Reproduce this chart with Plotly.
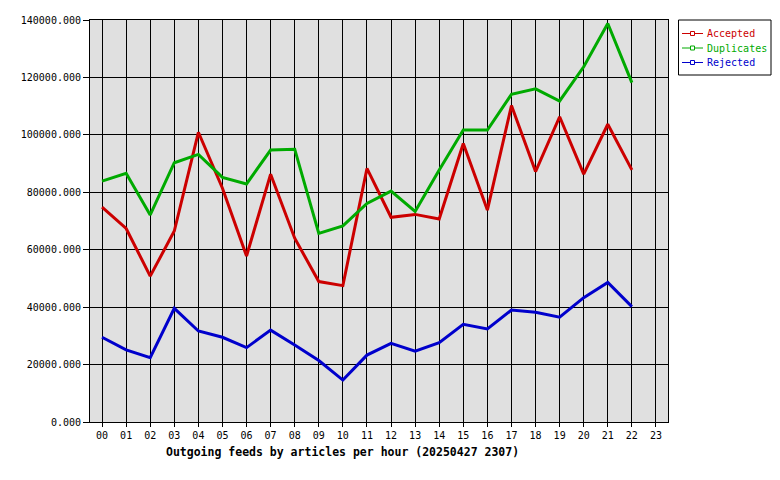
import plotly.graph_objects as go

hours = ["%02d" % h for h in range(24)]
accepted = [74800, 67400, 50800, 66500, 100900, 81400, 57800, 86300, 64000, 48900, 47500, 88300,
            71300, 72300, 70700, 97000, 73800, 110200, 87200, 106300, 86300, 103700, 87800]
duplicates = [83900, 86600, 72100, 90300, 93200, 85200, 82900, 94700, 95000, 65700, 68300, 76100,
              80400, 73300, 87800, 101700, 101700, 114100, 116000, 111800, 123700, 138800, 118200]
rejected = [29500, 25100, 22400, 39600, 31700, 29500, 25900, 32000, 26800, 21400, 14600, 23300,
            27400, 24700, 27600, 34000, 32400, 39000, 38200, 36500, 43300, 48600, 40200]
y_ticks = [0, 20000, 40000, 60000, 80000, 100000, 120000, 140000]
series_names = ["Accepted", "Duplicates", "Rejected"]
series_values = [accepted, duplicates, rejected]
series_colors = ["#cc0000", "#00aa00", "#0000cc"]

FONT = "DejaVu Sans Mono"
OFF = 8  # default page body margin
W, H = 780 - OFF, 480 - OFF
L, R, T, B = 90, 668, 20, 422  # plot area in window pixels


def px(x):
    return (x - L) / (R - L)


def py(y):
    return (B - y) / (B - T)


fig = go.Figure()
for name, vals, col in zip(series_names, series_values, series_colors):
    fig.add_trace(go.Scatter(x=hours[:len(vals)], y=vals, mode="lines", name=name,
                             line=dict(color=col, width=3), showlegend=False))

shapes = [dict(type="rect", xref="paper", yref="paper", x0=px(678.5), x1=px(771), y0=py(20), y1=py(75),
               line=dict(color="black", width=1), fillcolor="white", layer="above")]
annotations = []
for i, (name, col) in enumerate(zip(series_names, series_colors)):
    yy = 33.5 + i * 14.5
    shapes.append(dict(type="line", xref="paper", yref="paper", x0=px(682), x1=px(703),
                       y0=py(yy), y1=py(yy), line=dict(color=col, width=1), layer="above"))
    shapes.append(dict(type="rect", xref="paper", yref="paper", x0=px(690.5), x1=px(694.5),
                       y0=py(yy - 2), y1=py(yy + 2), line=dict(color=col, width=1),
                       fillcolor="white", layer="above"))
    annotations.append(dict(text=name, xref="paper", yref="paper", x=px(704.5), y=py(yy),
                            xanchor="left", yanchor="middle", showarrow=False,
                            font=dict(family=FONT, size=10, color=col)))

annotations.append(dict(text="<b>Outgoing feeds by articles per hour (20250427 2307)</b>",
                        xref="paper", yref="paper", x=px(342.5), y=py(452),
                        xanchor="center", yanchor="middle", showarrow=False,
                        font=dict(family=FONT, size=11.5, color="black")))

fig.update_layout(
    width=W, height=H,
    margin=dict(l=L - OFF, r=780 - R, t=T - OFF, b=480 - B, autoexpand=False),
    paper_bgcolor="white", plot_bgcolor="#e0e0e0",
    font=dict(family=FONT, size=10, color="black"),
    showlegend=False,
    xaxis=dict(type="category", categoryorder="array", categoryarray=hours,
               range=[-0.5, 23.5], tickvals=hours, ticktext=hours,
               showgrid=True, gridcolor="black", gridwidth=1,
               showline=True, linecolor="black", linewidth=1, mirror=True,
               ticks="outside", ticklen=4, tickcolor="black",
               zeroline=False, fixedrange=True, automargin=False),
    yaxis=dict(range=[0, 140000], tickvals=y_ticks, tickformat=".3f",
               showgrid=True, gridcolor="black", gridwidth=1,
               showline=True, linecolor="black", linewidth=1, mirror=True,
               ticks="outside", ticklen=6, tickcolor="black",
               zeroline=False, fixedrange=True, automargin=False),
    shapes=shapes,
    annotations=annotations,
)
fig.write_html("out.html")
